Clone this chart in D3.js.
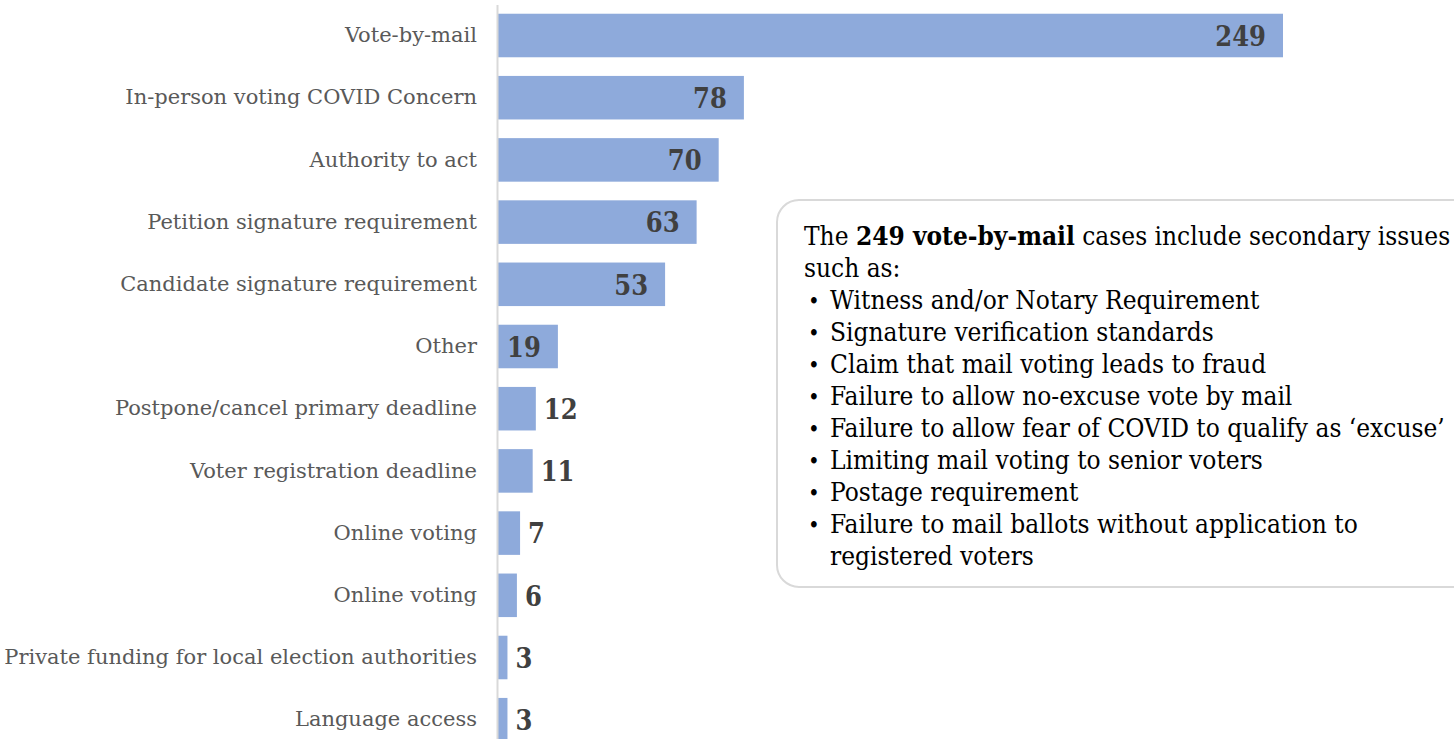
<!DOCTYPE html>
<html><head><meta charset="utf-8">
<script src="https://cdn.jsdelivr.net/npm/d3@7"></script>
<style>body{margin:0;background:#fff;overflow:hidden;} svg{display:block;}</style>
</head><body>
<script>
const categories = ["Vote-by-mail","In-person voting COVID Concern","Authority to act","Petition signature requirement","Candidate signature requirement","Other","Postpone/cancel primary deadline","Voter registration deadline","Online voting","Online voting","Private funding for local election authorities","Language access"];
const values = [249,78,70,63,53,19,12,11,7,6,3,3];
const noteFirstLine = [{t:"The ",b:false},{t:"249 vote-by-mail",b:true},{t:" cases include secondary issues",b:false}];
const noteSecondLine = "such as:";
const noteBullets = [
  ["Witness and/or Notary Requirement"],
  ["Signature verification standards"],
  ["Claim that mail voting leads to fraud"],
  ["Failure to allow no-excuse vote by mail"],
  ["Failure to allow fear of COVID to qualify as \u2018excuse\u2019"],
  ["Limiting mail voting to senior voters"],
  ["Postage requirement"],
  ["Failure to mail ballots without application to","registered voters"]
];

const W = 1454, H = 739;
const svg = d3.select("body").append("svg").attr("width", W).attr("height", H);
const serifC = "'DejaVu Serif Condensed','DejaVu Serif',serif";
const serif = "'DejaVu Serif',serif";

const x = d3.scaleLinear().domain([0, 249]).range([498, 1283]);
const y = d3.scaleBand().domain(d3.range(categories.length)).range([4.4, 750.8]).paddingInner(0.3).paddingOuter(0.15);

// bars
svg.append("g").selectAll("rect").data(values).join("rect")
  .attr("x", x(0)).attr("y", (d,i)=>y(i))
  .attr("width", d=>x(d)-x(0)).attr("height", y.bandwidth())
  .attr("fill", "#8eaadb");

// axis
const ax = svg.append("g").attr("transform", "translate(497,0)")
  .call(d3.axisLeft(y).tickSize(0).tickPadding(20).tickFormat(i=>categories[i]));
ax.select(".domain").attr("stroke", "#d9d9d9").attr("stroke-width", 2);
ax.selectAll("text").attr("font-family", serif).attr("font-size", 21).attr("fill", "#595959").attr("dy", "0.32em");

// value labels
svg.append("g").selectAll("text").data(values).join("text")
  .attr("x", d => d >= 19 ? x(d) - 17 : x(d) + 8)
  .attr("y", (d,i)=>y(i) + y.bandwidth()/2)
  .attr("dy", "0.38em")
  .attr("text-anchor", d => d >= 19 ? "end" : "start")
  .attr("font-family", serifC).attr("font-weight", "bold").attr("font-size", 27)
  .attr("fill", "#404040")
  .text(d=>d);

// annotation box
const note = svg.append("g");
note.append("rect").attr("x", 777).attr("y", 200).attr("width", 720).attr("height", 387)
  .attr("rx", 22).attr("fill", "#fff").attr("stroke", "#d9d9d9").attr("stroke-width", 2);
const fs = 26, lh = 32, x0 = 804, y0 = 245;
const t1 = note.append("text").attr("x", x0).attr("y", y0).attr("font-family", serifC).attr("font-size", fs).attr("fill", "#000");
t1.selectAll("tspan").data(noteFirstLine).join("tspan").attr("font-weight", d=>d.b?"bold":"normal").text(d=>d.t);
note.append("text").attr("x", x0).attr("y", y0+lh).attr("font-family", serifC).attr("font-size", fs).attr("fill", "#000").text(noteSecondLine);
let line = 2;
noteBullets.forEach(b => {
  note.append("text").attr("x", 808).attr("y", y0 + line*lh).attr("font-family", serifC).attr("font-size", 22).attr("fill", "#000").text("\u2022");
  b.forEach(s => {
    note.append("text").attr("x", 830).attr("y", y0 + line*lh).attr("font-family", serifC).attr("font-size", fs).attr("fill", "#000").text(s);
    line++;
  });
});
</script>
</body></html>
